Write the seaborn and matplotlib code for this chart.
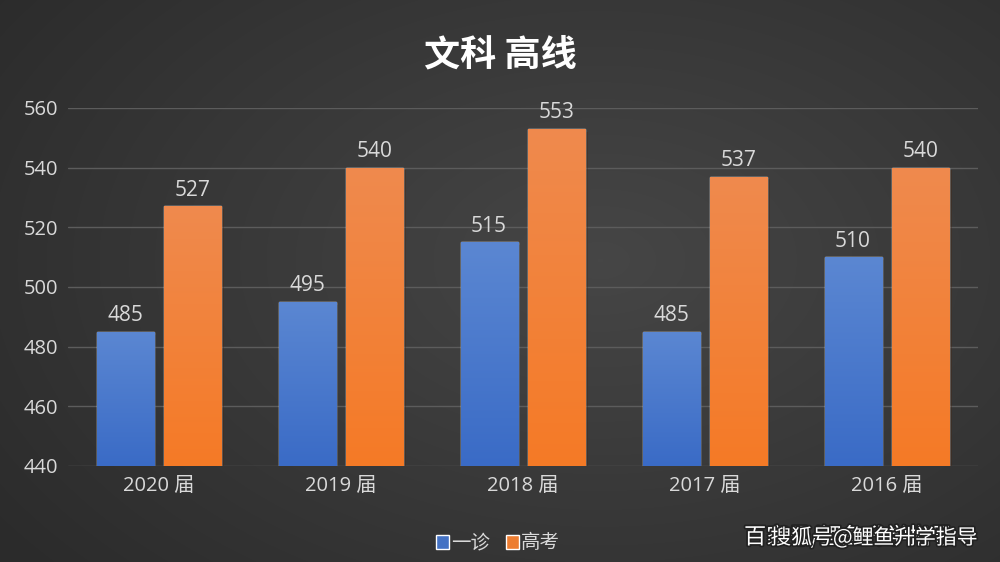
import numpy as np
import pandas as pd
import matplotlib
matplotlib.use('Agg')
import matplotlib.pyplot as plt
import matplotlib.patheffects as pe
import seaborn as sns
from matplotlib.colors import LinearSegmentedColormap

# ---- data ----
categories = ['2020 届', '2019 届', '2018 届', '2017 届', '2016 届']
series_names = ['一诊', '高考']
yizhen = [485, 495, 515, 485, 510]
gaokao = [527, 540, 553, 537, 540]
y_ticks = [440, 460, 480, 500, 520, 540, 560]
title = '文科 高线'
watermark1 = '百家号/鲤鱼升学指导'
watermark2 = '搜狐号@鲤鱼升学指导'

sns.set_theme(style='dark')
plt.rcParams['font.family'] = ['Open Sans', 'Noto Sans CJK SC', 'DejaVu Sans']
CJK = ['Noto Sans CJK SC', 'DejaVu Sans']

df = pd.DataFrame({
    '届': categories * 2,
    '系列': [series_names[0]] * len(categories) + [series_names[1]] * len(categories),
    '分数': yizhen + gaokao,
})

W, H = 1000, 562
fig = plt.figure(figsize=(W / 100, H / 100), dpi=100)

# background radial gradient
bg = fig.add_axes([0, 0, 1, 1])
bg.set_axis_off()
yy, xx = np.mgrid[0:H, 0:W]
r = np.sqrt(((xx - 600) / 750.0) ** 2 + ((yy - 260) / 480.0) ** 2)
r = np.clip(r, 0, 1)
bg_cmap = LinearSegmentedColormap.from_list('bg', ['#464646', '#2b2b2b'])
bg.imshow(r, cmap=bg_cmap, aspect='auto', extent=[0, 1, 0, 1], origin='upper')
bg.set_xlim(0, 1)
bg.set_ylim(0, 1)

ax = fig.add_axes([0.068, 1 - 466 / H, 0.91, (466 - 108) / H])
ax.set_facecolor('none')

palette = ['#4472C4', '#ED7D31']
sns.barplot(data=df, x='届', y='分数', hue='系列', palette=palette,
            width=0.746, gap=0.16, ax=ax, saturation=1, legend=True)

ax.set_ylim(440, 560)
ax.set_xlim(-0.5, len(categories) - 0.5)
ax.set_yticks(y_ticks)
ax.grid(axis='y', color='#5c5c5c', lw=1)
ax.grid(axis='x', visible=False)
ax.set_axisbelow(True)
for s in ax.spines.values():
    s.set_visible(False)
ax.set_xlabel('')
ax.set_ylabel('')
ax.tick_params(axis='y', colors='#d9d9d9', labelsize=14.5, length=0, pad=7)
ax.tick_params(axis='x', colors='#d9d9d9', labelsize=14.5, length=0, pad=7)

# gradients on bars
grads = {
    0: LinearSegmentedColormap.from_list('b', ['#3a6bc6', '#5b87d2']),
    1: LinearSegmentedColormap.from_list('o', ['#f57a26', '#ef8a4e']),
}
grad = np.linspace(0, 1, 256).reshape(-1, 1)
for ci, cont in enumerate(ax.containers):
    for p in cont.patches:
        x0 = p.get_x()
        w = p.get_width()
        top = p.get_y() + p.get_height()
        bot = max(p.get_y(), 440)
        p.set_path_effects([pe.SimplePatchShadow(offset=(2, -2), alpha=0.35), pe.Normal()])
        im = ax.imshow(grad, cmap=grads[ci], aspect='auto', origin='lower',
                       extent=[x0, x0 + w, bot, top], zorder=p.get_zorder() + 0.1)
        im.set_clip_path(p)
    ax.bar_label(cont, padding=4, color='#d9d9d9', fontsize=15)

ax.set_xlim(-0.5, len(categories) - 0.5)
ax.set_ylim(440, 560)

handles, labels = ax.get_legend_handles_labels()
ax.get_legend().remove()
leg = fig.legend(handles, labels, loc='center', bbox_to_anchor=(0.498, 1 - 543 / H),
                 ncol=2, frameon=False, fontsize=14, handlelength=0.7, handleheight=0.7,
                 handletextpad=0.1, columnspacing=0.8, prop={'family': CJK, 'size': 14})
for t in leg.get_texts():
    t.set_color('#d9d9d9')

fig.text(0.5, 1 - 55 / H, title, ha='center', va='center', fontsize=26,
         fontweight='bold', color='white', family=CJK)

wm_fx = [pe.withStroke(linewidth=2.5, foreground='#222222')]
fig.text(744 / W, 1 - 537 / H, watermark1, ha='left', va='center', fontsize=16,
         color='white', path_effects=wm_fx, family=CJK)
fig.text(978 / W, 1 - 538 / H, watermark2, ha='right', va='center', fontsize=15,
         color='white', path_effects=wm_fx, family=CJK)

fig.savefig('out.png', dpi=100, facecolor=fig.get_facecolor())
